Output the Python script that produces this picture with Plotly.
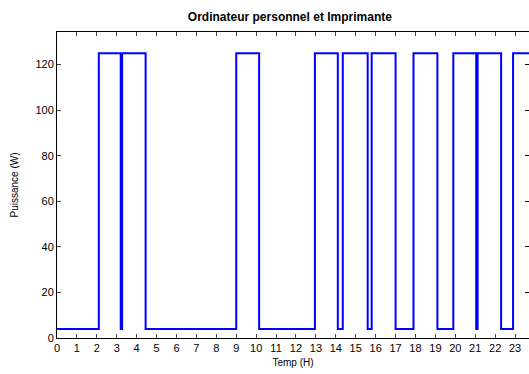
import plotly.graph_objects as go

# Switching times (hours) and the power level held from each time onward
switch_times = [0, 2.1, 3.2, 3.27, 4.45, 9.0, 10.15, 12.95, 14.1, 14.35, 15.6,
                15.8, 17.0, 17.9, 19.1, 19.9, 21.05, 21.12, 22.3, 22.9, 24]
power_levels = [4, 125, 4, 125, 4, 125, 4, 125, 4, 125, 4,
                125, 4, 125, 4, 125, 4, 125, 4, 125, 125]

x_ticks = list(range(0, 24))
y_ticks = [0, 20, 40, 60, 80, 100, 120]
y_range = [0, 134.3]

font = "Liberation Sans, Arial, Helvetica, sans-serif"

fig = go.Figure()
fig.add_trace(go.Scatter(
    x=switch_times, y=power_levels, mode="lines", line_shape="hv",
    line=dict(color="#0000FF", width=2), showlegend=False,
))
# transparent copy bound to the right-hand axis so its tick marks get drawn
fig.add_trace(go.Scatter(
    x=switch_times, y=power_levels, mode="lines", yaxis="y2",
    opacity=0, hoverinfo="skip", showlegend=False,
))

fig.update_layout(
    width=529, height=374,
    margin=dict(l=57, r=0, t=32, b=36),
    paper_bgcolor="white", plot_bgcolor="white",
    font=dict(family=font, size=11, color="black"),
    title=dict(text="<b>Ordinateur personnel et Imprimante</b>",
               x=0.548, xanchor="center", y=0.955, yanchor="middle",
               font=dict(size=12)),
    xaxis=dict(
        range=[0, 23.7], tickvals=x_ticks, ticks="inside", ticklen=4,
        showline=True, linecolor="black", linewidth=1, mirror="ticks",
        showgrid=False, zeroline=False,
        title=dict(text="Temp (H)", font=dict(size=10), standoff=5),
        tickfont=dict(size=11),
    ),
    yaxis=dict(
        range=y_range, tickvals=y_ticks, ticks="inside", ticklen=4,
        showline=True, linecolor="black", linewidth=1, mirror=False,
        showgrid=False, zeroline=False,
        title=dict(text="Puissance (W)", font=dict(size=10), standoff=14),
        tickfont=dict(size=11),
    ),
    # right-hand tick marks without a border line
    yaxis2=dict(
        range=y_range, tickvals=y_ticks, ticks="inside", ticklen=4,
        overlaying="y", side="right", showline=False, showgrid=False,
        zeroline=False, showticklabels=False, tickcolor="black",
    ),
)

fig.write_html("out.html")
